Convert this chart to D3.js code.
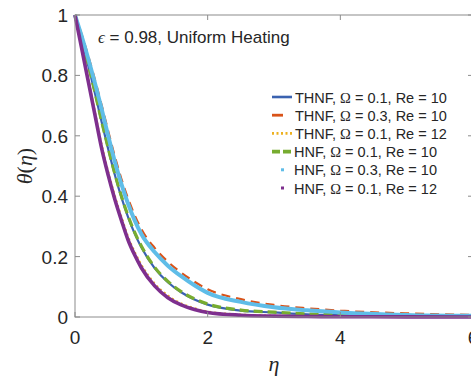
<!DOCTYPE html>
<html>
<head>
<meta charset="utf-8">
<script src="https://cdn.jsdelivr.net/npm/d3@7"></script>
<style>
  body { margin: 0; background: white; }
  text { font-family: "Liberation Sans", Arial, sans-serif; fill: #262626; }
</style>
</head>
<body>
<div id="vis"></div>
<script>
// chart data
let eta = [0, 0.1, 0.2, 0.3, 0.4, 0.5, 0.6, 0.7, 0.8, 0.9, 1.0, 1.2, 1.4, 1.6, 1.8, 2.0, 2.5, 3, 3.5, 4, 5, 6];

let thnf01re10 = [1, 0.918, 0.832, 0.742, 0.647, 0.556, 0.471, 0.396, 0.331, 0.276, 0.231, 0.162, 0.115, 0.082, 0.058, 0.041, 0.021, 0.015, 0.009, 0.006, 0.003, 0.002];
let thnf03re10 = [1, 0.936, 0.864, 0.786, 0.703, 0.616, 0.532, 0.457, 0.392, 0.337, 0.291, 0.229, 0.183, 0.147, 0.117, 0.092, 0.059, 0.040, 0.029, 0.021, 0.012, 0.007];
let thnf01re12 = [1, 0.894, 0.787, 0.679, 0.571, 0.481, 0.401, 0.331, 0.266, 0.215, 0.173, 0.111, 0.071, 0.045, 0.029, 0.018, 0.008, 0.004, 0.002, 0.001, 0.0006, 0.0003];
let hnf01re10 = [1, 0.92, 0.835, 0.745, 0.65, 0.56, 0.475, 0.4, 0.335, 0.28, 0.235, 0.165, 0.118, 0.084, 0.06, 0.043, 0.023, 0.016, 0.01, 0.007, 0.004, 0.002];
let hnf03re10 = [1, 0.93, 0.855, 0.775, 0.69, 0.6, 0.515, 0.44, 0.375, 0.32, 0.275, 0.215, 0.17, 0.135, 0.105, 0.08, 0.05, 0.032, 0.022, 0.015, 0.007, 0.004];
let hnf01re12 = [1, 0.89, 0.78, 0.67, 0.56, 0.47, 0.39, 0.32, 0.255, 0.205, 0.163, 0.103, 0.064, 0.04, 0.025, 0.015, 0.006, 0.003, 0.0015, 0.001, 0.0005, 0.0002];

let xTicks = [0, 2, 4, 6];
let yTicks = [0, 0.2, 0.4, 0.6, 0.8, 1];

let seriesNames = ['THNF', 'THNF', 'THNF', 'HNF', 'HNF', 'HNF'];
let omegas = ['0.1', '0.3', '0.1', '0.1', '0.3', '0.1'];
let reynolds = ['10', '10', '12', '10', '10', '12'];

let series = [
  { values: thnf01re10, color: '#3a62b0', width: 2.2, dash: null },
  { values: thnf03re10, color: '#d95319', width: 2.2, dash: '9,6' },
  { values: thnf01re12, color: '#edb120', width: 2.2, dash: '2,3' },
  { values: hnf01re10, color: '#77ac30', width: 3.2, dash: '9,5' },
  { values: hnf03re10, color: '#5fbde8', width: 4, dash: null },
  { values: hnf01re12, color: '#7e2f8e', width: 3.6, dash: null },
];

let margin = { top: 15, left: 75, right: -2, bottom: 60 },
  W = 471, H = 377,
  width = W - margin.left - margin.right,
  height = H - margin.top - margin.bottom;

let svg = d3.select('#vis').append('svg')
  .attr('width', W)
  .attr('height', H);

let x = d3.scaleLinear().domain([0, 6]).range([margin.left, margin.left + width]);
let y = d3.scaleLinear().domain([0, 1]).range([margin.top + height, margin.top]);

// curves
let line = d3.line()
  .x((d, i) => x(eta[i]))
  .y(d => y(d))
  .curve(d3.curveMonotoneX);

series.forEach(s => {
  svg.append('path')
    .datum(s.values)
    .attr('d', line)
    .attr('fill', 'none')
    .attr('stroke', s.color)
    .attr('stroke-width', s.width)
    .attr('stroke-dasharray', s.dash);
});

// axes (MATLAB style, ticks inward, box)
let axisColor = '#8c8c8c';
let g = svg.append('g');
g.append('rect')
  .attr('x', x(0)).attr('y', y(1))
  .attr('width', x(6) - x(0)).attr('height', y(0) - y(1))
  .attr('fill', 'none').attr('stroke', axisColor).attr('stroke-width', 1);

xTicks.forEach(t => {
  g.append('line').attr('x1', x(t)).attr('x2', x(t)).attr('y1', y(0)).attr('y2', y(0) - 5).attr('stroke', axisColor);
  g.append('line').attr('x1', x(t)).attr('x2', x(t)).attr('y1', y(1)).attr('y2', y(1) + 5).attr('stroke', axisColor);
  g.append('text').attr('x', x(t)).attr('y', y(0) + 27)
    .attr('text-anchor', 'middle').style('font-size', '19px').text(t);
});
yTicks.forEach(t => {
  g.append('line').attr('x1', x(0)).attr('x2', x(0) + 5).attr('y1', y(t)).attr('y2', y(t)).attr('stroke', axisColor);
  g.append('line').attr('x1', x(6)).attr('x2', x(6) - 5).attr('y1', y(t)).attr('y2', y(t)).attr('stroke', axisColor);
  g.append('text').attr('x', x(0) - 7).attr('y', y(t) + 7)
    .attr('text-anchor', 'end').style('font-size', '19px').text(t);
});

// axis labels
svg.append('text')
  .attr('x', x(3)).attr('y', 371)
  .attr('text-anchor', 'middle')
  .style('font-family', '"Liberation Serif", serif').style('font-style', 'italic').style('font-size', '22px')
  .text('η');

svg.append('text')
  .attr('transform', 'translate(32,166) rotate(-90)')
  .attr('text-anchor', 'middle')
  .style('font-family', '"Liberation Serif", serif').style('font-size', '22px')
  .html('<tspan font-style="italic">θ</tspan>(<tspan font-style="italic">η</tspan>)');

// annotation
svg.append('text')
  .attr('x', 98).attr('y', 43)
  .style('font-size', '17px')
  .html('<tspan font-family="Liberation Serif" font-style="italic">ϵ</tspan> = 0.98, Uniform Heating');

// legend
let leg = svg.append('g');
series.forEach((s, i) => {
  let cy = 97 + i * 18.2;
  if (i === 4 || i === 5) {
    leg.append('rect').attr('x', 281).attr('y', cy - 1.5).attr('width', 3).attr('height', 3).attr('fill', s.color);
  } else if (i === 1) {
    leg.append('line').attr('x1', 272).attr('x2', 283).attr('y1', cy).attr('y2', cy)
      .attr('stroke', s.color).attr('stroke-width', s.width + 0.6);
  } else {
    leg.append('line').attr('x1', 272).attr('x2', 292).attr('y1', cy).attr('y2', cy)
      .attr('stroke', s.color).attr('stroke-width', s.width + 0.4)
      .attr('stroke-dasharray', i === 2 ? '2,2.5' : (i === 3 ? '8,3' : null));
  }
  leg.append('text').attr('x', i < 3 ? 295 : 294).attr('y', cy + 5.5)
    .style('font-size', '14.5px')
    .html(seriesNames[i] + ',  <tspan font-family="Liberation Serif">Ω</tspan> = ' + omegas[i] + ', Re = ' + reynolds[i]);
});
</script>
</body>
</html>
